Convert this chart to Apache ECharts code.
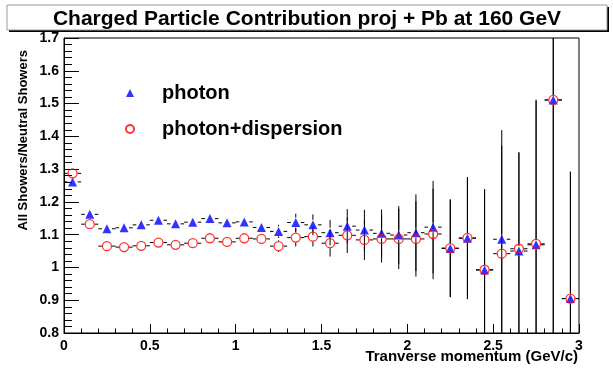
<!DOCTYPE html>
<html>
<head>
<meta charset="utf-8">
<script src="https://cdn.jsdelivr.net/npm/echarts@6/dist/echarts.min.js"></script>
<style>
  html, body { margin: 0; padding: 0; background: #fff; }
  #main { width: 613px; height: 368px; }
</style>
</head>
<body>
<div id="main"></div>
<script>
// bin centres, pT in GeV/c (bins are 0.1 wide)
const binCenters = [0.05, 0.15, 0.25, 0.35, 0.45, 0.55, 0.65, 0.75, 0.85, 0.95,
  1.05, 1.15, 1.25, 1.35, 1.45, 1.55, 1.65, 1.75, 1.85, 1.95,
  2.05, 2.15, 2.25, 2.35, 2.45, 2.55, 2.65, 2.75, 2.85, 2.95];
const halfBin = 0.05;

const photon = [1.261, 1.162, 1.118, 1.121, 1.130, 1.144, 1.133, 1.138, 1.149, 1.136,
  1.139, 1.122, 1.110, 1.137, 1.130, 1.106, 1.126, 1.114, 1.104, 1.099,
  1.106, 1.123, 1.058, 1.089, 0.992, 1.086, 1.050, 1.069, 1.511, 0.905];
const photonErr = [0.003, 0.004, 0.004, 0.005, 0.005, 0.006, 0.007, 0.007, 0.008, 0.009,
  0.010, 0.012, 0.020, 0.027, 0.032, 0.039, 0.052, 0.062, 0.073, 0.088,
  0.117, 0.141, 0.149, 0.186, 0.246, 0.333, 0.301, 0.440, 0.750, 0.387];

const dispersion = [1.287, 1.132, 1.065, 1.062, 1.066, 1.076, 1.069, 1.074, 1.089, 1.078,
  1.089, 1.087, 1.065, 1.091, 1.094, 1.074, 1.098, 1.084, 1.087, 1.087,
  1.087, 1.102, 1.059, 1.090, 0.993, 1.042, 1.057, 1.072, 1.511, 0.905];
const dispersionErr = [0.003, 0.004, 0.004, 0.005, 0.005, 0.006, 0.007, 0.007, 0.008, 0.009,
  0.010, 0.012, 0.018, 0.027, 0.030, 0.041, 0.054, 0.061, 0.072, 0.092,
  0.115, 0.138, 0.149, 0.186, 0.246, 0.330, 0.294, 0.440, 0.750, 0.387];

const FONT = 'Liberation Sans, Arial, sans-serif';

function pts (vals) {
  return binCenters.map((x, i) => [x, vals[i]]);
}
function errPts (vals, errs) {
  return binCenters.map((x, i) => [x, vals[i], errs[i]]);
}

// ROOT style error bars: horizontal bin width + vertical error, gap round the marker
function renderErr (params, api) {
  const x = api.value(0);
  const y = api.value(1);
  const e = api.value(2);
  const c = api.coord([x, y]);
  const l = api.coord([x - halfBin, y]);
  const r = api.coord([x + halfBin, y]);
  const t = api.coord([x, y + e]);
  const b = api.coord([x, y - e]);
  const gap = 5;
  const style = { stroke: '#000', lineWidth: 1 };
  const kids = [
    { type: 'line', shape: { x1: l[0], y1: c[1], x2: c[0] - gap, y2: c[1] }, style: style },
    { type: 'line', shape: { x1: c[0] + gap, y1: c[1], x2: r[0], y2: c[1] }, style: style }
  ];
  if (c[1] - t[1] > gap) {
    kids.push({ type: 'line', shape: { x1: c[0], y1: t[1], x2: c[0], y2: c[1] - gap }, style: style });
  }
  if (b[1] - c[1] > gap) {
    kids.push({ type: 'line', shape: { x1: c[0], y1: c[1] + gap, x2: c[0], y2: b[1] }, style: style });
  }
  return { type: 'group', children: kids };
}

const chart = echarts.init(document.getElementById('main'));
chart.setOption({
  animation: false,
  backgroundColor: '#fff',
  grid: {
    left: 64, right: 34, top: 38, bottom: 35,
    show: true, borderColor: '#000', borderWidth: 1,
    outerBoundsMode: 'none'
  },
  graphic: [
    { type: 'rect', shape: { x: 9, y: 7, width: 600, height: 25 }, style: { fill: '#000' } },
    { type: 'rect', shape: { x: 7, y: 5, width: 600, height: 25 }, style: { fill: '#fff', stroke: '#999', lineWidth: 1 } },
    {
      type: 'text', x: 307, y: 19,
      style: {
        text: 'Charged Particle Contribution proj + Pb at 160 GeV',
        fill: '#000', font: 'bold 21px ' + FONT, align: 'center', verticalAlign: 'middle'
      }
    },
    {
      type: 'text', x: 578, y: 357,
      style: {
        text: 'Tranverse momentum (GeV/c)',
        fill: '#000', font: 'bold 15px ' + FONT, align: 'right', verticalAlign: 'middle'
      }
    },
    {
      type: 'text', x: 23, y: 50, rotation: Math.PI / 2,
      style: {
        text: 'All Showers/Neutral Showers',
        fill: '#000', font: 'bold 13px ' + FONT, align: 'right', verticalAlign: 'middle'
      }
    }
  ],
  legend: {
    data: ['photon', 'photon+dispersion'],
    orient: 'vertical',
    left: 125,
    top: 83,
    padding: 0,
    itemWidth: 8,
    itemHeight: 8,
    itemGap: 16,
    textStyle: {
      fontFamily: FONT, fontWeight: 'bold', fontSize: 20, color: '#000',
      lineHeight: 20, padding: [0, 0, 0, 23]
    }
  },
  xAxis: {
    type: 'value',
    min: 0,
    max: 3,
    interval: 0.5,
    axisLine: { lineStyle: { color: '#000', width: 1 } },
    axisTick: { inside: true, length: 9, lineStyle: { color: '#000' } },
    minorTick: { show: true, splitNumber: 5, length: 4.5, lineStyle: { color: '#000' } },
    splitLine: { show: false },
    axisLabel: {
      margin: 6, color: '#000', fontFamily: FONT, fontWeight: 'bold', fontSize: 14,
      formatter: v => String(Math.round(v * 10) / 10)
    }
  },
  yAxis: {
    type: 'value',
    min: 0.8,
    max: 1.7,
    interval: 0.1,
    axisLine: { lineStyle: { color: '#000', width: 1 } },
    axisTick: { inside: true, length: 15, lineStyle: { color: '#000' } },
    minorTick: { show: true, splitNumber: 5, length: 8, lineStyle: { color: '#000' } },
    splitLine: { show: false },
    axisLabel: {
      margin: 5, color: '#000', fontFamily: FONT, fontWeight: 'bold', fontSize: 14,
      formatter: v => String(Math.round(v * 10) / 10)
    }
  },
  series: [
    {
      type: 'custom',
      name: 'photonErr',
      renderItem: renderErr,
      clip: true,
      silent: true,
      z: 1,
      data: errPts(photon, photonErr)
    },
    {
      type: 'custom',
      name: 'dispersionErr',
      renderItem: renderErr,
      clip: true,
      silent: true,
      z: 1,
      data: errPts(dispersion, dispersionErr)
    },
    {
      type: 'scatter',
      name: 'photon',
      symbol: 'triangle',
      symbolSize: 9,
      itemStyle: { color: '#0000ff' },
      z: 3,
      data: pts(photon)
    },
    {
      type: 'scatter',
      name: 'photon+dispersion',
      symbol: 'circle',
      symbolSize: 9,
      itemStyle: { color: 'rgba(255,255,255,0)', borderColor: '#ff0000', borderWidth: 1.3 },
      z: 4,
      data: pts(dispersion)
    }
  ]
});
</script>
</body>
</html>
